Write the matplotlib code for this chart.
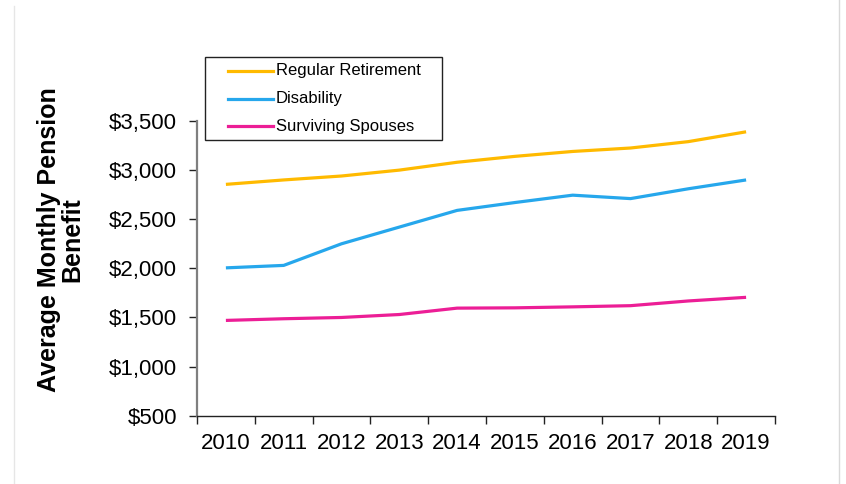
import matplotlib
matplotlib.use("Agg")
import matplotlib.pyplot as plt
from matplotlib.lines import Line2D
from matplotlib.patches import Rectangle

plt.rcParams['font.family'] = ['Liberation Sans', 'DejaVu Sans']

years = ["2010", "2011", "2012", "2013", "2014", "2015", "2016", "2017", "2018", "2019"]
regular_retirement = [2855, 2900, 2940, 3000, 3080, 3140, 3190, 3225, 3290, 3390]
disability = [2005, 2030, 2250, 2420, 2590, 2670, 2745, 2710, 2810, 2900]
surviving_spouses = [1470, 1487, 1500, 1530, 1595, 1598, 1608, 1620, 1668, 1705]

series_names = ["Regular Retirement", "Disability", "Surviving Spouses"]
series_values = [regular_retirement, disability, surviving_spouses]
series_colors = ["#FFBA00", "#26A7EC", "#EC1E96"]

y_ticks = [500, 1000, 1500, 2000, 2500, 3000, 3500]
y_tick_labels = ["$500", "$1,000", "$1,500", "$2,000", "$2,500", "$3,000", "$3,500"]

W, H = 846, 484
fig = plt.figure(figsize=(W / 100, H / 100), dpi=100)
ax = fig.add_axes([197 / W, 1 - 415.7 / H, (775 - 197) / W, (415.7 - 121) / H])

x = list(range(len(years)))
for vals, col in zip(series_values, series_colors):
    ax.plot(x, vals, color=col, lw=2.3, solid_capstyle='butt', solid_joinstyle='round')

ax.set_ylim(500, 3500)
ax.set_yticks(y_ticks)
ax.set_yticklabels(y_tick_labels, fontsize=16, color='#000000')
ax.tick_params(axis='y', length=5.8, width=1, color='#222222', pad=8.4)

ax.set_xlim(-0.5, len(years) - 0.5)
ax.set_xticks([i - 0.5 for i in range(len(years) + 1)])
ax.set_xticklabels([])
ax.set_xticks(x, minor=True)
ax.set_xticklabels(years, minor=True, fontsize=16, color='#000000')
ax.tick_params(axis='x', which='major', length=5.5, width=1, color='#222222', direction='out')
ax.tick_params(axis='x', which='minor', length=0, pad=12.5)

for side in ('top', 'right'):
    ax.spines[side].set_visible(False)
ax.spines['left'].set_color('#7f7f7f')
ax.spines['left'].set_linewidth(1.6)
ax.spines['bottom'].set_color('#222222')
ax.spines['bottom'].set_linewidth(1.0)

fig.text(61 / W, 1 - 240 / H, "Average Monthly Pension\nBenefit", rotation=90,
         ha='center', va='center', multialignment='center',
         fontsize=18, fontweight='bold', linespacing=0.98)

# Legend drawn in figure pixel space
def fx(px):
    return px / W

def fy(py):
    return 1 - py / H

fig.add_artist(Rectangle((fx(205), fy(140)), fx(442) - fx(205), fy(57) - fy(140),
                         transform=fig.transFigure, fill=False,
                         edgecolor='#222222', lw=1.0))
row_y = [71, 98.5, 126]
for name, col, ry in zip(series_names, series_colors, row_y):
    fig.add_artist(Line2D([fx(228), fx(273)], [fy(ry), fy(ry)], color=col, lw=2.3,
                          transform=fig.transFigure))
    fig.text(fx(276), fy(ry), name, fontsize=12, ha='left', va='center', color='#000000')

# Light frame edges
fig.add_artist(Line2D([fx(14), fx(14)], [fy(6), 0], color='#e6e6e6', lw=1.0,
                      transform=fig.transFigure))
fig.add_artist(Line2D([fx(839), fx(839)], [1, 0], color='#d9d9d9', lw=1.0,
                      transform=fig.transFigure))

fig.savefig("out.png", dpi=100)
